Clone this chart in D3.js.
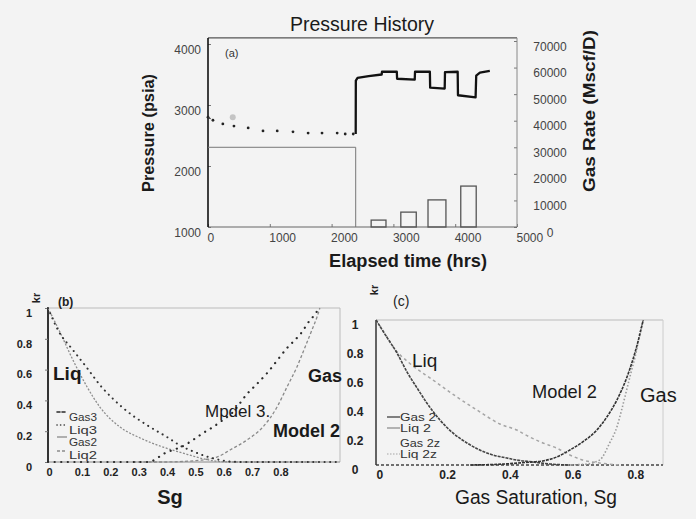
<!DOCTYPE html>
<html><head><meta charset="utf-8">
<script src="https://cdn.jsdelivr.net/npm/d3@7"></script>
<style>
html,body{margin:0;padding:0;background:#f3f3f3;}
svg{display:block;}
</style></head><body>
<svg id="c" width="696" height="519"></svg>
<script>
// ===================== DATA =====================
// Panel (a) Pressure History
const timeTicks = [0, 1000, 2000, 3000, 4000, 5000];
const pressureTicks = [1000, 2000, 3000, 4000];
const rateTicks = [0, 10000, 20000, 30000, 40000, 50000, 60000, 70000];

const drawdownTime = [0, 80, 240, 420, 650, 890, 1120, 1375, 1620, 1845, 2090, 2220, 2350];
const drawdownPressure = [2800, 2750, 2690, 2655, 2625, 2575, 2575, 2560, 2540, 2540, 2540, 2525, 2525];

const testTime = [2390, 2392, 2420, 2600, 2810, 2815, 3055, 3060, 3345, 3350, 3590, 3595, 3830, 3835, 4040, 4045, 4330, 4340, 4400, 4560];
const testPressure = [2525, 3400, 3445, 3475, 3500, 3545, 3545, 3430, 3415, 3545, 3545, 3285, 3270, 3540, 3545, 3160, 3125, 3480, 3530, 3560];

const markerTime = [400];
const markerPressure = [2800];

const rateTime = [0, 2390, 2390];
const rateValue = [30000, 30000, 0];

const barStart = [2640, 3120, 3560, 4090];
const barEnd = [2880, 3370, 3850, 4340];
const barRate = [2600, 5600, 10200, 15400];

// Panel (b)
const sgTicksB = [0, 0.1, 0.2, 0.3, 0.4, 0.5, 0.6, 0.7, 0.8];
const krTicks = [0, 0.2, 0.4, 0.6, 0.8, 1];
const legendB = ["Gas3", "Liq3", "Gas2", "Liq2"];

const sgLiq3 = [0, 0.035, 0.088, 0.138, 0.183, 0.226, 0.282, 0.349, 0.42, 0.476, 0.5, 0.554, 0.607, 0.677, 0.85, 1.02];
const krLiq3 = [1, 0.857, 0.727, 0.61, 0.5, 0.416, 0.325, 0.24, 0.162, 0.097, 0.078, 0.039, 0.013, 0, 0, 0];

const sgLiq2 = [0, 0.042, 0.088, 0.138, 0.183, 0.254, 0.325, 0.406, 0.476, 0.536, 0.59, 0.64, 0.8, 0.95];
const krLiq2 = [1, 0.844, 0.662, 0.487, 0.357, 0.227, 0.156, 0.097, 0.058, 0.026, 0.006, 0, 0, 0];

const sgGas3 = [0, 0.353, 0.413, 0.483, 0.511, 0.547, 0.582, 0.617, 0.649, 0.705, 0.73, 0.776, 0.818, 0.843, 0.871, 0.896, 0.917, 0.94, 0.957];
const krGas3 = [0, 0, 0.058, 0.11, 0.143, 0.188, 0.227, 0.273, 0.318, 0.448, 0.494, 0.584, 0.682, 0.74, 0.792, 0.844, 0.903, 0.955, 1.0];

const sgGas2 = [0.3, 0.413, 0.5, 0.596, 0.642, 0.702, 0.758, 0.808, 0.843, 0.878, 0.907, 0.931, 0.949, 0.959];
const krGas2 = [0, 0, 0.006, 0.032, 0.078, 0.143, 0.227, 0.357, 0.487, 0.617, 0.747, 0.857, 0.942, 1.0];

// Panel (c)
const sgTicksC = [0, 0.2, 0.4, 0.6, 0.8];
const legendC = ["Gas 2", "Liq 2", "Gas 2z", "Liq 2z"];

const sgLiqC2 = [0, 0.035, 0.067, 0.099, 0.131, 0.162, 0.204, 0.245, 0.29, 0.331, 0.373, 0.417, 0.449, 0.5, 0.554, 0.62];
const krLiqC2 = [1, 0.88, 0.772, 0.641, 0.531, 0.428, 0.31, 0.221, 0.152, 0.103, 0.069, 0.048, 0.034, 0.021, 0.007, 0];

const sgGasC2 = [0.3, 0.35, 0.4, 0.45, 0.5, 0.532, 0.576, 0.618, 0.659, 0.704, 0.736, 0.768, 0.799, 0.818, 0.834, 0.852];
const krGasC2 = [0, 0.002, 0.006, 0.013, 0.021, 0.028, 0.055, 0.103, 0.159, 0.241, 0.331, 0.448, 0.6, 0.72, 0.84, 1.0];

const sgLiqC2z = [0, 0.03, 0.06, 0.108, 0.182, 0.258, 0.322, 0.395, 0.449, 0.49, 0.532, 0.576, 0.618, 0.659, 0.713, 0.777];
const krLiqC2z = [1, 0.9, 0.8, 0.7, 0.586, 0.469, 0.379, 0.283, 0.241, 0.193, 0.152, 0.117, 0.069, 0.034, 0.014, 0];

const sgGasC2z = [0.6, 0.666, 0.713, 0.745, 0.768, 0.783, 0.799, 0.815, 0.831, 0.841, 0.852];
const krGasC2z = [0, 0.005, 0.034, 0.152, 0.262, 0.379, 0.517, 0.655, 0.793, 0.91, 1.0];

// ===================== DRAWING =====================
const FONT = '"Liberation Sans", Arial, Helvetica, sans-serif';
const svg = d3.select("#c").attr("font-family", FONT);
const zip = (a, b) => a.map((v, i) => [v, b[i]]);
const fmtInt = d3.format("d");
const fmtKr = d => d === 0 ? "0" : (d === 1 ? "1" : d.toFixed(1));

function styleAxis(g, size, weight, fill) {
  g.select(".domain").remove();
  g.attr("font-family", FONT).attr("font-size", size);
  g.selectAll("text").attr("fill", fill).attr("font-weight", weight);
  g.selectAll(".tick line").attr("stroke", "#777");
}

// ---------- Panel (a) ----------
const xA = d3.scaleLinear().domain([0, 5000]).range([208, 517]);
const yP = d3.scaleLinear().domain([1000, 4000]).range([227, 44]);
const yR = d3.scaleLinear().domain([0, 70000]).range([227, 41]);
const gA = svg.append("g");
const aL = xA(0), aR = xA(5000), aT = yP(4100), aB = yP(1000);

svg.append("text").attr("x", 362).attr("y", 31).attr("text-anchor", "middle")
  .attr("font-size", 19.5).attr("fill", "#1a1a1a").text("Pressure History");

const axAL = gA.append("g").attr("transform", `translate(${aL},0)`)
  .call(d3.axisLeft(yP).tickValues(pressureTicks).tickFormat(fmtInt).tickSizeInner(-3).tickSizeOuter(0).tickPadding(7));
styleAxis(axAL, 12, "normal", "#444");
axAL.selectAll("text").attr("dy", "0.75em");

const axAR = gA.append("g").attr("transform", `translate(${aR},0)`)
  .call(d3.axisRight(yR).tickValues(rateTicks).tickFormat(fmtInt).tickSizeInner(-3).tickSizeOuter(0).tickPadding(33));
styleAxis(axAR, 12, "normal", "#444");
axAR.selectAll("text").attr("dy", "0.75em").attr("text-anchor", "middle");

const axAB = gA.append("g").attr("transform", `translate(0,${aB})`)
  .call(d3.axisBottom(xA).tickValues(timeTicks).tickFormat(fmtInt).tickSizeInner(-3).tickSizeOuter(0).tickPadding(6));
styleAxis(axAB, 12, "normal", "#444");
axAB.selectAll("text").attr("text-anchor", "start").attr("dx", -1);

gA.append("line").attr("x1", aL).attr("x2", aR).attr("y1", aT).attr("y2", aT).attr("stroke", "#555").attr("stroke-width", 1.4);
gA.append("line").attr("x1", aR).attr("x2", aR).attr("y1", aT).attr("y2", aB).attr("stroke", "#888").attr("stroke-width", 1);
gA.append("line").attr("x1", aL).attr("x2", aR).attr("y1", aB).attr("y2", aB).attr("stroke", "#666").attr("stroke-width", 1.2);
gA.append("line").attr("x1", aL).attr("x2", aL).attr("y1", aT).attr("y2", aB).attr("stroke", "#111").attr("stroke-width", 1.6);

const lineRate = d3.line().x(d => xA(d[0])).y(d => yR(d[1]));
gA.append("path").attr("d", lineRate(zip(rateTime, rateValue))).attr("fill", "none")
  .attr("stroke", "#777").attr("stroke-width", 1);
gA.selectAll("rect.bar").data(barRate).join("rect").attr("class", "bar")
  .attr("x", (d, i) => xA(barStart[i])).attr("width", (d, i) => xA(barEnd[i]) - xA(barStart[i]))
  .attr("y", d => yR(d)).attr("height", d => yR(0) - yR(d))
  .attr("fill", "none").attr("stroke", "#555").attr("stroke-width", 1.3);

const lineP = d3.line().x(d => xA(d[0])).y(d => yP(d[1]));
gA.selectAll("circle.dd").data(zip(drawdownTime, drawdownPressure)).join("circle").attr("class", "dd")
  .attr("cx", d => xA(d[0])).attr("cy", d => yP(d[1])).attr("r", 1.4).attr("fill", "#222");
gA.append("path").attr("d", lineP(zip(drawdownTime.slice(0, 2), drawdownPressure.slice(0, 2))))
  .attr("fill", "none").attr("stroke", "#333").attr("stroke-width", 1.2).attr("stroke-dasharray", "3,2");
gA.append("path").attr("d", lineP(zip(testTime, testPressure))).attr("fill", "none")
  .attr("stroke", "#111").attr("stroke-width", 2.3).attr("stroke-linejoin", "round");
gA.selectAll("circle.mk").data(zip(markerTime, markerPressure)).join("circle").attr("class", "mk")
  .attr("cx", d => xA(d[0])).attr("cy", d => yP(d[1])).attr("r", 3).attr("fill", "#c4c4c4");

gA.append("text").attr("x", 225).attr("y", 57).attr("font-size", 11).attr("fill", "#333").text("(a)");
gA.append("text").attr("transform", "translate(154,133) rotate(-90)").attr("text-anchor", "middle")
  .attr("font-size", 16).attr("font-weight", "bold").attr("fill", "#1a1a1a")
  .attr("textLength", 118).attr("lengthAdjust", "spacingAndGlyphs").text("Pressure (psia)");
gA.append("text").attr("transform", "translate(595,111) rotate(-90)").attr("text-anchor", "middle")
  .attr("font-size", 16.5).attr("font-weight", "bold").attr("fill", "#1a1a1a")
  .attr("textLength", 162).attr("lengthAdjust", "spacingAndGlyphs").text("Gas Rate (Mscf/D)");
gA.append("text").attr("x", 408).attr("y", 267).attr("text-anchor", "middle")
  .attr("font-size", 17.5).attr("font-weight", "bold").attr("fill", "#1a1a1a")
  .attr("textLength", 158).attr("lengthAdjust", "spacingAndGlyphs").text("Elapsed time (hrs)");

// ---------- Panel (b) ----------
const xB = d3.scaleLinear().domain([0, 1.03]).range([48, 340]);
const yB = d3.scaleLinear().domain([0, 1]).range([462, 308]);
const gB = svg.append("g");
const bL = xB(0), bR = xB(1.03), bT = yB(1), bBt = yB(0);

gB.append("line").attr("x1", bL).attr("x2", bR).attr("y1", bT).attr("y2", bT).attr("stroke", "#bbb");
gB.append("line").attr("x1", bR).attr("x2", bR).attr("y1", bT).attr("y2", bBt).attr("stroke", "#bbb");
gB.append("line").attr("x1", bL).attr("x2", bR).attr("y1", bBt).attr("y2", bBt).attr("stroke", "#888");
gB.append("line").attr("x1", bL).attr("x2", bL).attr("y1", bT).attr("y2", bBt).attr("stroke", "#333").attr("stroke-width", 2);

const axBL = gB.append("g").attr("transform", `translate(${bL},0)`)
  .call(d3.axisLeft(yB).tickValues(krTicks).tickFormat(fmtKr).tickSizeInner(3).tickSizeOuter(0).tickPadding(13));
styleAxis(axBL, 11, "bold", "#222");
axBL.selectAll("text").attr("dy", "0.75em");
const axBB = gB.append("g").attr("transform", `translate(0,${bBt})`)
  .call(d3.axisBottom(xB).tickValues(sgTicksB).tickFormat(fmtKr).tickSizeInner(0).tickSizeOuter(0).tickPadding(6));
styleAxis(axBB, 11, "bold", "#222");
axBB.selectAll("text").attr("text-anchor", "start").attr("dx", -2);

const lineB = d3.line().x(d => xB(d[0])).y(d => yB(d[1])).curve(d3.curveMonotoneX);
const stylesB = {
  Gas3: { c: "#2a2a2a", w: 2.2, dash: "0.1,6.5", cap: "round" },
  Liq3: { c: "#333", w: 2, dash: "0.1,5.5", cap: "round" },
  Gas2: { c: "#8a8a8a", w: 1.3, dash: "3,2.2", cap: "butt" },
  Liq2: { c: "#8c8c8c", w: 1.3, dash: "2,1.6", cap: "butt" }
};
const seriesB = [
  ["Liq2", sgLiq2, krLiq2], ["Gas2", sgGas2, krGas2],
  ["Liq3", sgLiq3, krLiq3], ["Gas3", sgGas3, krGas3]
];
seriesB.forEach(([n, xs, ys]) => {
  const s = stylesB[n];
  gB.append("path").attr("d", lineB(zip(xs, ys))).attr("fill", "none").attr("stroke", s.c)
    .attr("stroke-width", s.w).attr("stroke-dasharray", s.dash).attr("stroke-linecap", s.cap);
});

const legBY = [412, 425, 437, 451];
const legBBase = [421, 434, 446, 459];
legendB.forEach((n, i) => {
  const s = stylesB[n];
  gB.append("line").attr("x1", 57).attr("x2", 67).attr("y1", legBY[i]).attr("y2", legBY[i])
    .attr("stroke", s.c).attr("stroke-width", Math.min(s.w, 1.6)).attr("stroke-dasharray", n === "Gas2" ? null : (n === "Liq3" ? "0.1,3.5" : "3,2"))
    .attr("stroke-linecap", s.cap);
  gB.append("text").attr("x", 69).attr("y", legBBase[i]).attr("font-size", 10.5).attr("fill", "#333")
    .attr("textLength", 28).attr("lengthAdjust", "spacingAndGlyphs").text(n);
});

gB.append("text").attr("x", 58).attr("y", 306).attr("font-size", 12).attr("font-weight", "bold").attr("fill", "#222").text("(b)");
gB.append("text").attr("transform", "translate(40,298) rotate(-90)").attr("text-anchor", "middle")
  .attr("font-size", 11).attr("font-weight", "bold").attr("fill", "#222").text("kr");
gB.append("text").attr("x", 53).attr("y", 380).attr("font-size", 19).attr("font-weight", "bold").attr("fill", "#1a1a1a").text("Liq");
gB.append("text").attr("x", 308).attr("y", 382).attr("font-size", 18).attr("font-weight", "bold").attr("fill", "#1a1a1a").text("Gas");
gB.append("text").attr("x", 205).attr("y", 417).attr("font-size", 17).attr("fill", "#1a1a1a").text("Mpdel 3.");
gB.append("text").attr("x", 273).attr("y", 437).attr("font-size", 17.5).attr("font-weight", "bold").attr("fill", "#1a1a1a")
  .attr("textLength", 67).attr("lengthAdjust", "spacingAndGlyphs").text("Model 2");
gB.append("text").attr("x", 170).attr("y", 504).attr("text-anchor", "middle").attr("font-size", 20)
  .attr("font-weight", "bold").attr("fill", "#1a1a1a").text("Sg");

// ---------- Panel (c) ----------
const xC = d3.scaleLinear().domain([0, 0.915]).range([376, 663]);
const yC = d3.scaleLinear().domain([0, 1]).range([465, 320]);
const gC = svg.append("g");
const cL = xC(0), cR = xC(0.915), cT = yC(1), cB = yC(0);

gC.append("line").attr("x1", cL).attr("x2", cR).attr("y1", cT).attr("y2", cT).attr("stroke", "#bbb");
gC.append("line").attr("x1", cR).attr("x2", cR).attr("y1", cT).attr("y2", cB).attr("stroke", "#ccc");
gC.append("line").attr("x1", cL).attr("x2", cR).attr("y1", cB).attr("y2", cB).attr("stroke", "#444")
  .attr("stroke-width", 1.3).attr("stroke-dasharray", "3,2");
gC.append("line").attr("x1", cL).attr("x2", cL).attr("y1", cT).attr("y2", cB).attr("stroke", "#333").attr("stroke-width", 1.5);

const axCL = gC.append("g").attr("transform", `translate(${cL},0)`)
  .call(d3.axisLeft(yC).tickValues(krTicks).tickFormat(fmtKr).tickSizeInner(0).tickSizeOuter(0).tickPadding(21));
styleAxis(axCL, 12, "bold", "#222");
axCL.selectAll("text").attr("dy", "0.72em").attr("text-anchor", "middle");
const axCB = gC.append("g").attr("transform", `translate(0,${cB})`)
  .call(d3.axisBottom(xC).tickValues(sgTicksC).tickFormat(fmtKr).tickSizeInner(0).tickSizeOuter(0).tickPadding(5));
styleAxis(axCB, 12, "bold", "#222");
axCB.selectAll("text").attr("text-anchor", "start");

const lineC = d3.line().x(d => xC(d[0])).y(d => yC(d[1])).curve(d3.curveMonotoneX);
const stylesC = {
  "Gas 2": { c: "#333", w: 1.6, dash: "3,1" },
  "Liq 2": { c: "#444", w: 1.6, dash: "3,1" },
  "Gas 2z": { c: "#9a9a9a", w: 1.6, dash: "1.5,2" },
  "Liq 2z": { c: "#a5a5a5", w: 1.5, dash: "3,3" }
};
const seriesC = [
  ["Liq 2z", sgLiqC2z, krLiqC2z], ["Gas 2z", sgGasC2z, krGasC2z],
  ["Liq 2", sgLiqC2, krLiqC2], ["Gas 2", sgGasC2, krGasC2]
];
seriesC.forEach(([n, xs, ys]) => {
  const s = stylesC[n];
  gC.append("path").attr("d", lineC(zip(xs, ys))).attr("fill", "none").attr("stroke", s.c)
    .attr("stroke-width", s.w).attr("stroke-dasharray", s.dash);
});

const legCY = [417, 428, 443, 454];
const legCBase = [421, 432, 447, 458];
const legCLen = [36, 31, 40, 37];
legendC.forEach((n, i) => {
  const s = stylesC[n];
  if (n !== "Gas 2z") {
    gC.append("line").attr("x1", 387).attr("x2", 400).attr("y1", legCY[i]).attr("y2", legCY[i])
      .attr("stroke", n === "Liq 2" ? "#888" : s.c).attr("stroke-width", 1.2)
      .attr("stroke-dasharray", n === "Liq 2z" ? "1.5,1.5" : null);
  }
  gC.append("text").attr("x", 400).attr("y", legCBase[i]).attr("font-size", 10).attr("fill", "#333")
    .attr("textLength", legCLen[i]).attr("lengthAdjust", "spacingAndGlyphs").text(n);
});

gC.append("text").attr("x", 393).attr("y", 306).attr("font-size", 14).attr("fill", "#222").text("(c)");
gC.append("text").attr("transform", "translate(378,290) rotate(-90)").attr("text-anchor", "middle")
  .attr("font-size", 11).attr("font-weight", "bold").attr("fill", "#222").text("kr");
gC.append("text").attr("x", 412).attr("y", 367).attr("font-size", 19).attr("fill", "#1a1a1a").text("Liq");
gC.append("text").attr("x", 532).attr("y", 398).attr("font-size", 19).attr("fill", "#1a1a1a")
  .attr("textLength", 65).attr("lengthAdjust", "spacingAndGlyphs").text("Model 2");
gC.append("text").attr("x", 640).attr("y", 402).attr("font-size", 20).attr("fill", "#1a1a1a").text("Gas");
gC.append("text").attr("x", 536).attr("y", 504).attr("text-anchor", "middle").attr("font-size", 20)
  .attr("fill", "#1a1a1a").attr("textLength", 162).attr("lengthAdjust", "spacingAndGlyphs").text("Gas Saturation, Sg");
</script>
</body></html>
